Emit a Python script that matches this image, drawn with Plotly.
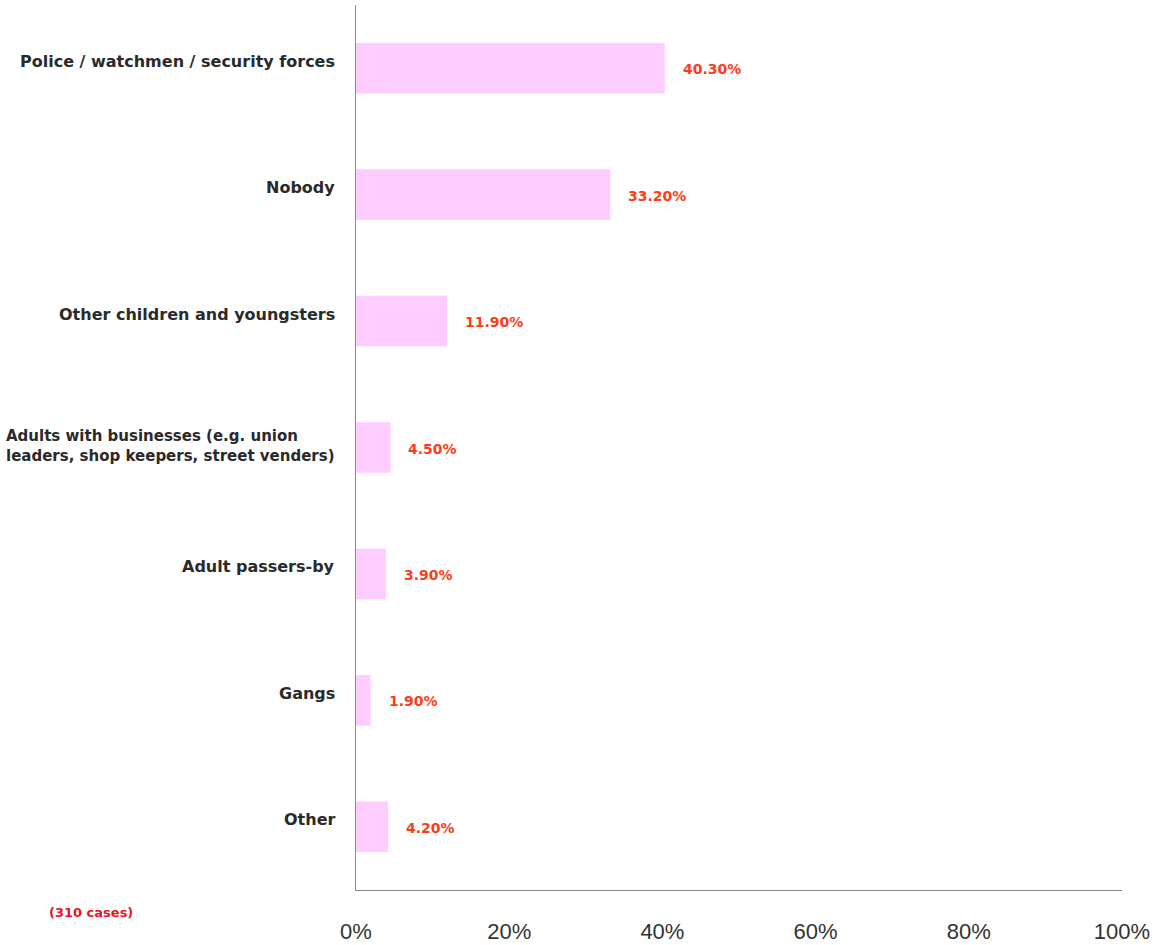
import plotly.graph_objects as go

categories = [
    "Police / watchmen / security forces",
    "Nobody",
    "Other children and youngsters",
    "Adults with businesses (e.g. union<br>leaders, shop keepers, street venders)",
    "Adult passers-by",
    "Gangs",
    "Other",
]
values = [40.3, 33.2, 11.9, 4.5, 3.9, 1.9, 4.2]
value_labels = ["40.30%", "33.20%", "11.90%", "4.50%", "3.90%", "1.90%", "4.20%"]
tick_values = [0, 20, 40, 60, 80, 100]
tick_labels = ["0%", "20%", "40%", "60%", "80%", "100%"]
note = "(310 cases)"

fig = go.Figure()
fig.add_trace(go.Bar(
    x=values,
    y=categories,
    orientation="h",
    width=0.4,
    marker=dict(color="#FFCCFF", line=dict(width=0)),
    hoverinfo="skip",
))

# value labels just right of each bar end
for cat, v, lab in zip(categories, values, value_labels):
    fig.add_annotation(
        x=v, xref="x", y=cat, yref="y",
        text=f"<b>{lab}</b>", showarrow=False,
        xanchor="left", yanchor="middle",
        xshift=16, yshift=-1,
        font=dict(family="DejaVu Sans", size=14, color="#FF3B1A"),
    )

# category labels sit slightly above each bar's centre;
# the wrapped label uses a slightly smaller size so it fits the margin
for cat in categories:
    wrapped = "<br>" in cat
    fig.add_annotation(
        x=0, xref="paper", y=cat, yref="y",
        text=f"<b>{cat}</b>", showarrow=False,
        xanchor="right", yanchor="middle", align="left",
        xshift=-19, yshift=2 if wrapped else 7,
        font=dict(family="DejaVu Sans", size=15 if wrapped else 16, color="#2a2a2a"),
    )

fig.add_annotation(
    x=-0.403, xref="paper", y=-0.025, yref="paper",
    text=f"<b>{note}</b>", showarrow=False,
    xanchor="left", yanchor="middle",
    font=dict(family="DejaVu Sans", size=13, color="#E8141E"),
)

fig.update_layout(
    width=1154, height=945,
    margin=dict(l=356, r=32, t=5, b=55, autoexpand=False),
    plot_bgcolor="white", paper_bgcolor="white",
    showlegend=False,
    xaxis=dict(
        range=[0, 100], tickvals=tick_values, ticktext=tick_labels,
        showgrid=False, zeroline=False, automargin=False,
        showline=True, linecolor="#888888", linewidth=1,
        ticks="", ticklabelstandoff=22,
        tickfont=dict(family="Liberation Sans Narrow, Liberation Sans", size=22, color="#333333"),
    ),
    yaxis=dict(
        categoryorder="array", categoryarray=categories[::-1],
        range=[-0.5, 6.5], automargin=False,
        showticklabels=False, showgrid=False, zeroline=False,
        showline=True, linecolor="#888888", linewidth=1, ticks="",
    ),
)

fig.write_html("out.html")
